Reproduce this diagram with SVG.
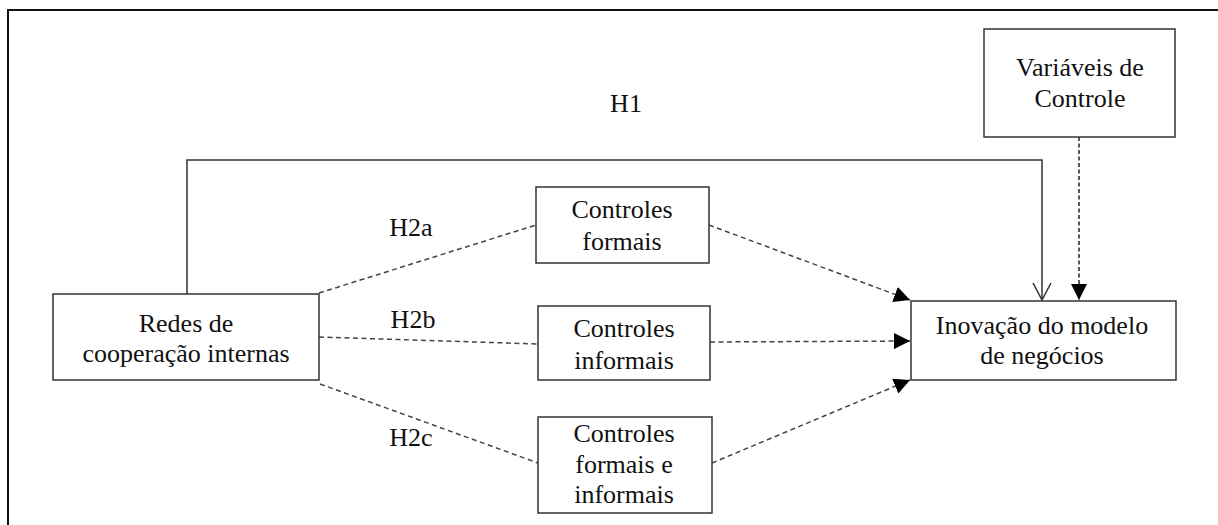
<svg xmlns="http://www.w3.org/2000/svg" width="1218" height="525" viewBox="0 0 1218 525">
  <style>
    .box { fill: #fff; stroke: #333; stroke-width: 1.5; }
    text { font-family: 'Liberation Serif', 'DejaVu Serif', 'Times New Roman', Times, serif; font-size: 26px; fill: #111; text-anchor: middle; }
    .solid { fill: none; stroke: #333; stroke-width: 1.5; }
    .dash { fill: none; stroke: #444; stroke-width: 1.5; stroke-dasharray: 5 3.5; }
    .vdash { fill: none; stroke: #222; stroke-width: 1.5; stroke-dasharray: 4 2.5; }
  </style>
  <defs>
    <marker id="fill" viewBox="0 0 16 16" refX="16" refY="8" markerWidth="16" markerHeight="16" markerUnits="userSpaceOnUse" orient="auto">
      <path d="M0,0 L16,8 L0,16 Z" fill="#000"/>
    </marker>
    <marker id="open" viewBox="0 0 18 20" refX="17" refY="10" markerWidth="18" markerHeight="20" markerUnits="userSpaceOnUse" orient="auto">
      <path d="M0,1 L17,10 L0,19" fill="none" stroke="#333" stroke-width="1.5"/>
    </marker>
  </defs>
  <rect width="1218" height="525" fill="#fff"/>
  <path d="M8,525 V10 H1218" fill="none" stroke="#111" stroke-width="2"/>

  <g id="connectors">
    <path class="solid" d="M187,294 V160 H1042 V300" marker-end="url(#open)"/>
    <path class="vdash" d="M1079,137 V300" marker-end="url(#fill)"/>
    <path class="dash" d="M319,293 L536,225"/>
    <path class="dash" d="M709,225 L910,300" marker-end="url(#fill)"/>
    <path class="dash" d="M319,337 L538,344"/>
    <path class="dash" d="M710,342 L910,341" marker-end="url(#fill)"/>
    <path class="dash" d="M320,384 L538,463"/>
    <path class="dash" d="M712,463 L910,380" marker-end="url(#fill)"/>
  </g>

  <g id="labels" font-family="Liberation Serif, serif">
    <text x="626" y="112">H1</text>
    <text x="411" y="236">H2a</text>
    <text x="413" y="328">H2b</text>
    <text x="411" y="446">H2c</text>
  </g>

  <g id="variaveis">
    <rect class="box" x="984" y="29" width="191" height="108"/>
    <text x="1080" y="76">Variáveis de</text>
    <text x="1080" y="107">Controle</text>
  </g>

  <g id="redes">
    <rect class="box" x="53" y="294" width="266" height="86"/>
    <text x="186" y="332">Redes de</text>
    <text x="186" y="362">cooperação internas</text>
  </g>

  <g id="formais">
    <rect class="box" x="536" y="187" width="173" height="76"/>
    <text x="622" y="218">Controles</text>
    <text x="622" y="250">formais</text>
  </g>

  <g id="informais">
    <rect class="box" x="538" y="306" width="172" height="74"/>
    <text x="624" y="337">Controles</text>
    <text x="624" y="369">informais</text>
  </g>

  <g id="formais-informais">
    <rect class="box" x="538" y="417" width="174" height="96"/>
    <text x="624" y="442">Controles</text>
    <text x="624" y="473">formais e</text>
    <text x="624" y="503">informais</text>
  </g>

  <g id="inovacao">
    <rect class="box" x="911" y="301" width="265" height="79"/>
    <text x="1042" y="334">Inovação  do modelo</text>
    <text x="1042" y="364">de negócios</text>
  </g>
</svg>
